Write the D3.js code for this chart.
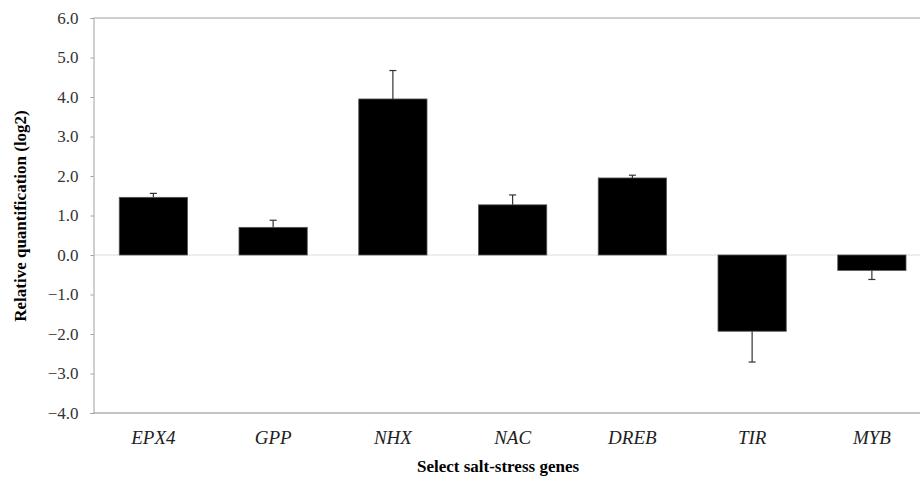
<!DOCTYPE html>
<html>
<head>
<meta charset="utf-8">
<script src="https://cdn.jsdelivr.net/npm/d3@7"></script>
<style>
  body { margin: 0; background: #fff; }
  #cntr { width: 920px; height: 478px; }
</style>
</head>
<body>
<div id="cntr"></div>
<script>
const width = 920, height = 478;

// Data
const genes = ["EPX4", "GPP", "NHX", "NAC", "DREB", "TIR", "MYB"];
const values = [1.46, 0.70, 3.95, 1.27, 1.95, -1.93, -0.39];
const errors = [0.10, 0.18, 0.72, 0.25, 0.07, 0.78, 0.23];
const yTicks = [-4, -3, -2, -1, 0, 1, 2, 3, 4, 5, 6];

const plotLeft = 93.5, plotTop = 18, plotBottom = 413;
const serif = "Liberation Serif";

const svg = d3.select("#cntr")
    .append("svg")
    .attr("width", width)
    .attr("height", height);

const x = d3.scaleBand()
    .domain(genes)
    .range([plotLeft, plotLeft + 7 * 119.75])
    .paddingInner(0.43)
    .paddingOuter(0.215);

const y = d3.scaleLinear()
    .domain([-4, 6])
    .range([plotBottom, plotTop]);

// plot frame: top and bottom border lines
svg.append("line")
    .attr("x1", plotLeft).attr("x2", width)
    .attr("y1", y(6)).attr("y2", y(6))
    .attr("stroke", "#a0a0a0");
svg.append("line")
    .attr("x1", plotLeft).attr("x2", width)
    .attr("y1", y(-4)).attr("y2", y(-4))
    .attr("stroke", "#b0b0b0").attr("stroke-width", 1.5);

// zero line
svg.append("line")
    .attr("x1", plotLeft).attr("x2", width)
    .attr("y1", y(0)).attr("y2", y(0))
    .attr("stroke", "#dcdcdc");

// y axis
const yAxis = svg.append("g")
    .attr("transform", `translate(${plotLeft},0)`)
    .call(d3.axisLeft(y).tickValues(yTicks).tickSize(3).tickPadding(12).tickFormat(d3.format(".1f")));
yAxis.attr("font-family", serif).attr("font-size", 17);
yAxis.select(".domain").attr("stroke", "#a0a0a0");
yAxis.selectAll(".tick line").attr("stroke", "#a0a0a0");
yAxis.selectAll("text").attr("fill", "#333");

// bars
const rows = genes.map((g, i) => ({ gene: g, value: values[i], err: errors[i] }));

svg.selectAll("rect.bar")
    .data(rows)
    .join("rect")
        .attr("class", "bar")
        .attr("x", d => x(d.gene))
        .attr("width", x.bandwidth())
        .attr("y", d => y(Math.max(0, d.value)))
        .attr("height", d => Math.abs(y(d.value) - y(0)))
        .attr("fill", "#000")
        .attr("stroke", "#555")
        .attr("stroke-width", 0.8);

// error bars (one-sided, away from zero)
const eb = svg.selectAll("g.err")
    .data(rows)
    .join("g")
        .attr("class", "err")
        .attr("stroke", "#333")
        .attr("stroke-width", 1.2);

eb.append("line")
    .attr("x1", d => x(d.gene) + x.bandwidth() / 2)
    .attr("x2", d => x(d.gene) + x.bandwidth() / 2)
    .attr("y1", d => y(d.value))
    .attr("y2", d => y(d.value + Math.sign(d.value) * d.err));

eb.append("line")
    .attr("x1", d => x(d.gene) + x.bandwidth() / 2 - 3.5)
    .attr("x2", d => x(d.gene) + x.bandwidth() / 2 + 3.5)
    .attr("y1", d => y(d.value + Math.sign(d.value) * d.err))
    .attr("y2", d => y(d.value + Math.sign(d.value) * d.err));

// x category labels
svg.selectAll("text.cat")
    .data(genes)
    .join("text")
        .attr("class", "cat")
        .attr("x", d => x(d) + x.bandwidth() / 2)
        .attr("y", 444)
        .attr("text-anchor", "middle")
        .attr("fill", "#222")
        .attr("font-family", serif)
        .attr("font-style", "italic")
        .attr("font-size", 19)
        .text(d => d);

// axis titles
svg.append("text")
    .attr("x", 498)
    .attr("y", 472)
    .attr("text-anchor", "middle")
    .attr("font-family", serif)
    .attr("font-weight", "bold")
    .attr("font-size", 17)
    .text("Select salt-stress genes");

svg.append("text")
    .attr("transform", "translate(26,216) rotate(-90)")
    .attr("text-anchor", "middle")
    .attr("font-family", serif)
    .attr("font-weight", "bold")
    .attr("font-size", 17)
    .text("Relative quantification (log2)");
</script>
</body>
</html>
